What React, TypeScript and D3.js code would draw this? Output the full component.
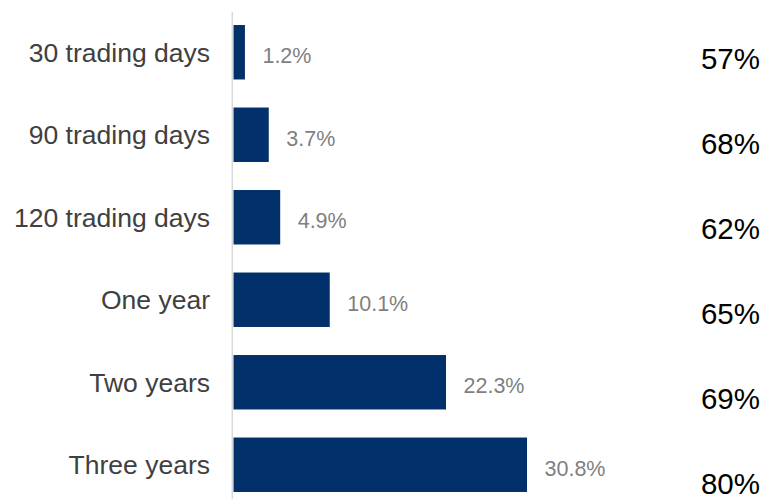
import React from "react";
import * as d3 from "d3";

const categories = ["30 trading days", "90 trading days", "120 trading days", "One year", "Two years", "Three years"];
const values = [1.2, 3.7, 4.9, 10.1, 22.3, 30.8];
const rightLabels = ["57%", "68%", "62%", "65%", "69%", "80%"];

const W = 766;
const H = 499;
const FONT = "'Liberation Sans', Arial, sans-serif";

export default function App() {
  const x = d3.scaleLinear().domain([0, 31]).range([233.5, 233.5 + 9.53 * 31]);
  const y = d3.scaleBand<string>().domain(categories).range([11, 506]).paddingInner(0.34).paddingOuter(0.17);
  const yr = d3.scalePoint<string>().domain(categories).range([69.3, 493.5]);
  const fmt = (v: number) => `${v.toFixed(1)}%`;

  return (
    <svg width={W} height={H} style={{ position: "absolute", left: 0, top: 0, background: "#fff" }} fontFamily={FONT}>
      {categories.map((c, i) => (
        <g key={c}>
          <rect x={x(0)} y={y(c)!} width={x(values[i]) - x(0)} height={y.bandwidth()} fill="#02306a" />
          <text x={210} y={y(c)! + y.bandwidth() / 2} dy="0.36em" textAnchor="end" fontSize={26.5} fill="#404040">
            {c}
          </text>
          <text x={x(values[i]) + 17.5} y={y(c)! + y.bandwidth() / 2} dy="0.52em" textAnchor="start" fontSize={21.5} fill="#7f7f7f">
            {fmt(values[i])}
          </text>
          <text x={760} y={yr(c)!} textAnchor="end" fontSize={29.5} fill="#000">
            {rightLabels[i]}
          </text>
        </g>
      ))}
      <line x1={232.3} x2={232.3} y1={12} y2={H} stroke="#d9d9d9" strokeWidth={1.5} />
    </svg>
  );
}
